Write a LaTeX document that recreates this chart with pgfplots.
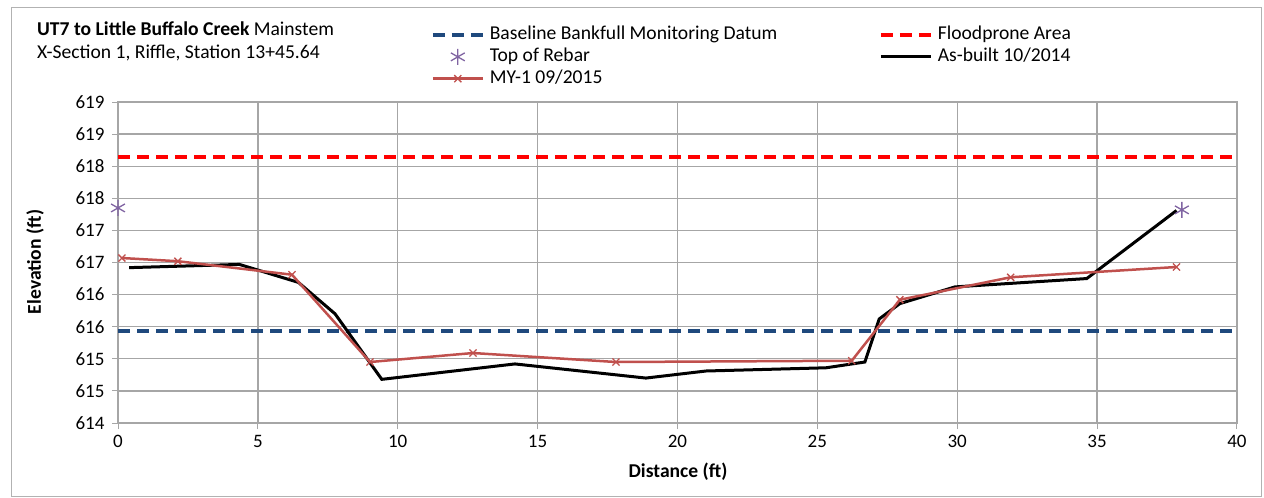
\documentclass[border=0pt]{standalone}
\usepackage{fontspec}
\setmainfont{Carlito}
\usepackage{pgfplots}
\pgfplotsset{compat=1.18}

\definecolor{bankblue}{HTML}{1F497D}
\definecolor{floodred}{HTML}{FF0000}
\definecolor{myred}{HTML}{C0504D}
\definecolor{rebar}{HTML}{8064A2}
\definecolor{gridgray}{HTML}{A6A6A6}

\newcommand{\chartfont}{\fontsize{19.6}{22}\selectfont}
\newcommand{\tickfont}{\fontsize{19}{22}\selectfont}

\pgfplotsset{
  widelegend/.style={
    legend image code/.code={%
      \draw[mark repeat=2,mark phase=2,##1] plot coordinates {(0pt,0pt) (25pt,0pt) (50pt,0pt)};%
    }
  }
}

\begin{document}
\begin{tikzpicture}[x=1pt,y=1pt]
\path[use as bounding box] (0,0) rectangle (1264,-498);
\draw[gray!60, line width=1pt] (11,-7) rectangle (1261,-496);

\node[anchor=base west, font=\chartfont, inner sep=0pt] at (37,-35)
  {\textbf{UT7 to Little Buffalo Creek} Mainstem};
\node[anchor=base west, font=\chartfont, inner sep=0pt] at (37,-58)
  {X-Section 1, Riffle, Station 13+45.64};

\begin{axis}[
  at={(118pt,-423pt)}, anchor=south west,
  scale only axis, width=1119pt, height=321pt,
  xmin=0, xmax=40, ymin=614, ymax=619,
  xtick={0,5,...,40},
  ytick={614,614.5,615,615.5,616,616.5,617,617.5,618,618.5,619},
  yticklabels={614,615,615,616,616,617,617,618,618,619,619},
  grid=major,
  grid style={gridgray, line width=1.3pt},
  axis line style={gridgray, line width=1.5pt},
  tick style={gridgray, line width=1pt},
  tick align=outside, major tick length=6pt,
  xtick pos=bottom, ytick pos=left,
  ticklabel style={font=\tickfont},
  /pgf/number format/assume math mode=true,
  xticklabel style={yshift=-3pt},
  yticklabel style={xshift=-4pt},
  widelegend,
  legend columns=2,
  legend cell align=left,
  legend style={at={(0.2767,1.245)}, anchor=north west, draw=none, fill=none,
    font=\chartfont,
    nodes={inner sep=0pt, text height=14pt, text depth=5pt},
    column sep=5pt, row sep=2.8pt},
]
% bankfull datum and floodprone elevation
\addplot[bankblue, line width=4pt, dash pattern=on 12pt off 7pt] coordinates {(0,615.43) (40,615.43)};
\addlegendentry{\makebox[384pt][l]{Baseline Bankfull Monitoring Datum}}
\addplot[floodred, line width=4pt, dash pattern=on 12pt off 7pt] coordinates {(0,618.14) (40,618.14)};
\addlegendentry{Floodprone Area}
% rebar pins
\addplot[only marks, rebar, mark=asterisk, mark size=8pt, line width=1.3pt] coordinates {(0,617.35) (38.03,617.32)};
\addlegendentry{Top of Rebar}
% as-built survey
\addplot[black, line width=3pt, mark=none] coordinates {
  (0.40,616.42) (4.34,616.47) (6.45,616.19) (7.76,615.70) (9.43,614.68)
  (14.19,614.92) (18.87,614.70) (21.02,614.81) (25.31,614.86) (26.70,614.95)
  (27.21,615.62) (27.95,615.86) (29.92,616.12) (34.63,616.25) (37.84,617.31)};
\addlegendentry{As-built 10/2014}
% monitoring year 1
\addplot[myred, line width=2.5pt, mark=x, mark size=5pt, mark options={line width=1.3pt}] coordinates {
  (0.14,616.57) (2.14,616.52) (6.22,616.31) (9.01,614.95) (12.69,615.09)
  (17.80,614.95) (26.23,614.97) (27.95,615.92) (31.91,616.27) (37.84,616.43)};
\addlegendentry{MY-1 09/2015}
\end{axis}

\node[font=\chartfont\bfseries] at (678,-472) {Distance (ft)};
\node[font=\chartfont\bfseries, rotate=90] at (35,-262) {Elevation (ft)};
\end{tikzpicture}
\end{document}
